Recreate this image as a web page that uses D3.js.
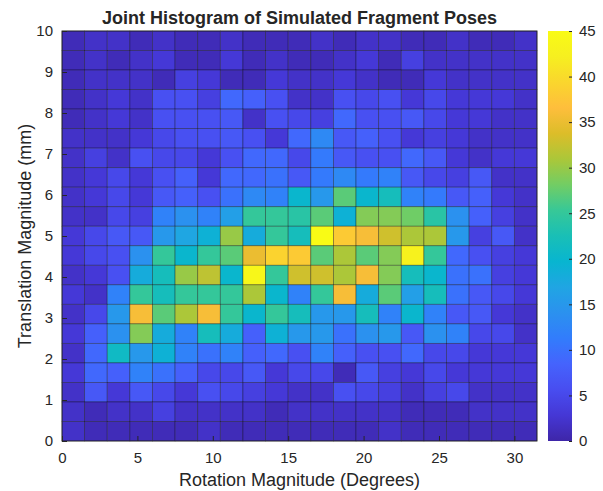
<!DOCTYPE html>
<html>
<head>
<meta charset="utf-8">
<script src="https://cdn.jsdelivr.net/npm/d3@7"></script>
<style>
  body { margin: 0; background: #fff; }
  text { font-family: "Liberation Sans", Arial, Helvetica, sans-serif; fill: #262626; }
</style>
</head>
<body>
<div id="chart"></div>
<script>
// rotation bins: 21 bins of 1.5 deg, translation bins: 21 bins over 0..10 mm
const rotationMax = 31.5,
      translationMax = 10,
      countMax = 45;
const rotationBins = [0, 1.5, 3, 4.5, 6, 7.5, 9, 10.5, 12, 13.5, 15, 16.5, 18, 19.5, 21, 22.5, 24, 25.5, 27, 28.5, 30];
const translationBins = [20, 19, 18, 17, 16, 15, 14, 13, 12, 11, 10, 9, 8, 7, 6, 5, 4, 3, 2, 1, 0]; // top row first

const rotationTicks = [0, 5, 10, 15, 20, 25, 30];
const translationTicks = [0, 1, 2, 3, 4, 5, 6, 7, 8, 9, 10];
const countTicks = [0, 5, 10, 15, 20, 25, 30, 35, 40, 45];

// counts, one row per translation bin, top (highest) row first
const counts = [
  [1,2,2,1,2,1,1,2,1,1,1, 2,1,2,2,1,1,2,1,1,2],
  [1,2,1,2,3,1,1,3,1,2,1, 1,2,3,1,4,2,2,2,2,2],
  [1,2,2,2,1,4,3,1,1,3,2, 2,3,2,1,1,3,2,2,2,2],
  [1,2,3,2,6,6,4,9,8,6,2, 2,6,5,6,3,5,3,3,3,2],
  [1,2,3,2,6,6,6,7,2,6,5, 4,9,6,6,7,5,3,3,2,2],
  [2,2,2,3,5,6,6,7,6,3,9, 13,7,8,6,3,4,3,2,2,2],
  [2,4,2,6,5,5,3,6,9,9,5, 11,7,6,6,9,7,3,2,3,3],
  [2,3,5,3,6,8,3,9,9,10,7, 11,13,11,12,7,5,4,7,2,2],
  [2,3,5,3,7,8,6,10,13,12,20, 15,27,20,22,12,11,7,8,3,2],
  [2,2,5,4,12,14,12,16,25,25,24, 27,19,29,29,28,24,14,8,4,2],
  [3,5,7,7,15,17,19,30,18,25,22, 45,38,36,33,31,31,15,4,7,2],
  [3,5,6,14,25,20,25,27,35,39,38, 27,31,27,29,43,25,9,6,4,3],
  [2,3,6,18,22,30,32,20,44,25,33, 33,31,36,29,22,20,10,10,4,3],
  [3,2,12,25,22,25,25,25,31,20,12, 25,36,18,27,16,22,10,7,5,3],
  [2,5,15,36,27,31,36,25,20,25,22, 15,15,22,12,20,12,7,7,3,2],
  [3,8,14,29,18,12,22,18,8,19,15, 15,10,14,15,7,14,12,5,5,2],
  [2,9,21,15,19,12,10,12,8,9,6, 12,8,6,6,9,5,5,3,3,3],
  [3,9,8,12,10,8,5,5,7,3,5, 5,1,7,4,3,5,3,3,3,3],
  [2,7,3,7,5,3,6,5,4,3,2, 2,6,5,4,2,4,5,2,2,2],
  [2,1,2,2,4,2,2,2,2,1,2, 2,2,2,2,1,1,1,2,2,2],
  [2,1,1,1,1,1,2,1,1,1,1, 1,1,1,2,1,1,1,1,1,1]
];

// parula colormap
const parula = ["#3e26a8","#4537d5","#484df0","#4563fd","#327cfc","#2b91ef","#20a5e3",
  "#08b5d0","#19bfb6","#37c897","#72cd64","#abc739","#dcbd29","#febe3c","#fad62d","#f6ef20","#f9fb15"];
const parulaInterp = d3.piecewise(d3.interpolateRgb, parula);

{
  const W = 603, H = 491;
  const margin = {top: 31, right: 66, bottom: 50, left: 62},
        width = W - margin.left - margin.right,
        height = H - margin.top - margin.bottom;

  const svg = d3.select("#chart").append("svg")
      .attr("width", W)
      .attr("height", H);

  const g = svg.append("g")
      .attr("transform", "translate(" + margin.left + "," + margin.top + ")");

  const x = d3.scaleLinear().domain([0, rotationMax]).range([0, width]);
  const y = d3.scaleLinear().domain([0, translationMax]).range([height, 0]);
  const color = d3.scaleSequential(parulaInterp).domain([0, countMax]);

  const xb = d3.scaleBand().domain(rotationBins).range([x(0), x(rotationMax)]);
  const yb = d3.scaleBand().domain(translationBins).range([y(translationMax), y(0)]);

  // cells
  counts.forEach(function(row, r) {
    row.forEach(function(v, c) {
      g.append("rect")
        .attr("x", xb(rotationBins[c]))
        .attr("y", yb(translationBins[r]))
        .attr("width", xb.bandwidth())
        .attr("height", yb.bandwidth())
        .attr("fill", color(v))
        .attr("stroke", "#000")
        .attr("stroke-opacity", 0.4)
        .attr("stroke-width", 0.8);
    });
  });

  // axes box
  g.append("rect")
    .attr("width", width).attr("height", height)
    .attr("fill", "none").attr("stroke", "#262626").attr("stroke-width", 0.8);

  const xAxis = g.append("g")
    .attr("transform", "translate(0," + height + ")")
    .call(d3.axisBottom(x).tickValues(rotationTicks).tickSizeInner(-5).tickSizeOuter(0).tickPadding(11));
  const yAxis = g.append("g")
    .call(d3.axisLeft(y).tickValues(translationTicks).tickSizeInner(-5).tickSizeOuter(0).tickPadding(9));
  [xAxis, yAxis].forEach(function(a) {
    a.select(".domain").remove();
    a.selectAll("line").attr("stroke", "#262626");
    a.selectAll("text").style("font-size", "15px").attr("fill", "#262626");
  });

  // title + labels
  svg.append("text")
    .attr("x", margin.left + width / 2).attr("y", 24)
    .attr("text-anchor", "middle")
    .style("font-size", "18px").style("font-weight", "bold")
    .attr("fill", "#000")
    .text("Joint Histogram of Simulated Fragment Poses");

  svg.append("text")
    .attr("x", margin.left + width / 2).attr("y", 486)
    .attr("text-anchor", "middle")
    .style("font-size", "18px")
    .text("Rotation Magnitude (Degrees)");

  svg.append("text")
    .attr("transform", "translate(31," + (margin.top + height / 2) + ") rotate(-90)")
    .attr("text-anchor", "middle")
    .style("font-size", "18px")
    .text("Translation Magnitude (mm)");

  // colorbar
  const cbX = 548, cbW = 24;
  const cy = d3.scaleLinear().domain([0, countMax]).range([margin.top + height, margin.top]);
  const grad = svg.append("defs").append("linearGradient")
    .attr("id", "parula").attr("x1", 0).attr("y1", 1).attr("x2", 0).attr("y2", 0);
  parula.forEach(function(c, i) {
    grad.append("stop").attr("offset", i / (parula.length - 1)).attr("stop-color", c);
  });
  svg.append("rect")
    .attr("x", cbX).attr("y", cy(countMax))
    .attr("width", cbW).attr("height", cy(0) - cy(countMax))
    .attr("fill", "url(#parula)");
  const cAxis = svg.append("g")
    .attr("transform", "translate(" + (cbX + cbW) + ",0)")
    .call(d3.axisRight(cy).tickValues(countTicks).tickSizeInner(-3).tickSizeOuter(0).tickPadding(7));
  cAxis.select(".domain").remove();
  cAxis.selectAll("line").attr("stroke", "#262626");
  cAxis.selectAll("text").style("font-size", "15px").attr("fill", "#262626");
}
</script>
</body>
</html>
